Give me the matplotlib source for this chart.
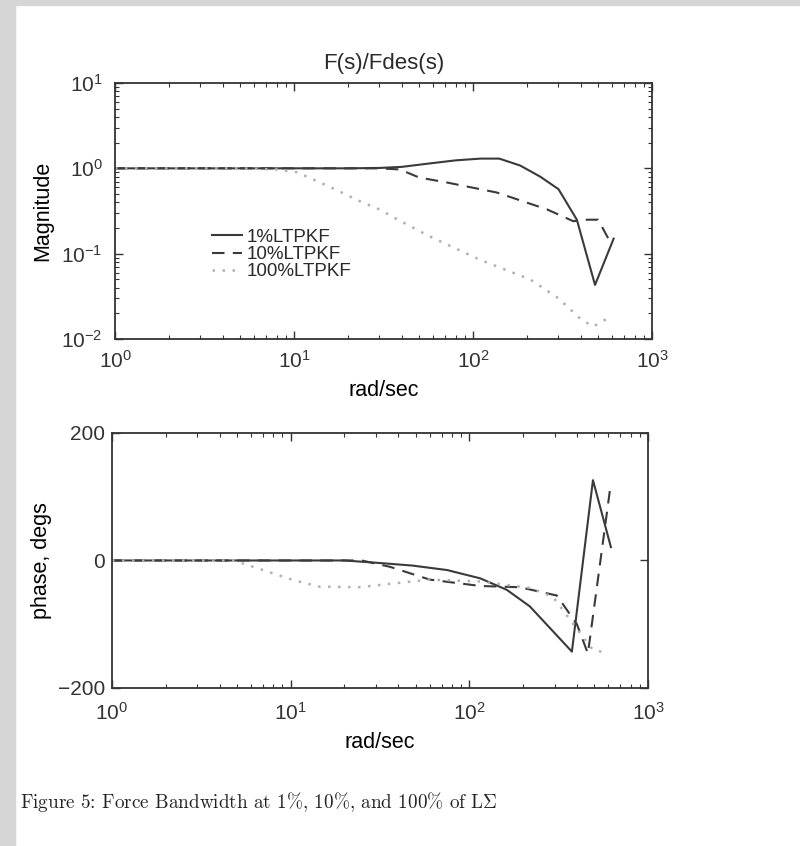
import matplotlib.pyplot as plt
from matplotlib.patches import Rectangle

# magnitude data
w_mag_1 = [1, 20, 30, 40, 57, 80, 110, 140, 183, 237, 300, 380, 480, 610]
mag_1 = [1.0, 1.0, 1.01, 1.04, 1.14, 1.24, 1.30, 1.30, 1.08, 0.80, 0.57, 0.25, 0.043, 0.15]

w_mag_10 = [1, 30, 39, 50, 72, 136, 259, 363, 432, 500, 580]
mag_10 = [1.0, 1.0, 0.97, 0.78, 0.68, 0.52, 0.33, 0.24, 0.25, 0.25, 0.14]

w_mag_100 = [1, 5, 8, 10.4, 16, 24, 30, 38, 57, 109, 208, 300, 400, 470, 580]
mag_100 = [1.0, 1.0, 0.97, 0.9, 0.6, 0.40, 0.33, 0.25, 0.16, 0.085, 0.05, 0.03, 0.017, 0.014, 0.018]

# phase data (degrees)
w_ph_1 = [1, 20, 31.6, 48, 75, 115, 162, 218, 375, 492, 620]
ph_1 = [0, 0, -4, -8, -15, -28, -46, -72, -143, 126, 21]

w_ph_10 = [1, 25, 36, 60, 115, 192, 309, 400, 461, 612]
ph_10 = [0, 0, -10, -30, -40, -42, -55, -100, -146, 110]

w_ph_100 = [1, 4.8, 7, 10.4, 14.5, 24, 38, 60, 115, 218, 294, 366, 417, 491, 585]
ph_100 = [0, 0, -15, -31, -41, -42, -36, -30, -33, -43, -57, -93, -114, -140, -145]

labels = ['1%LTPKF', '10%LTPKF', '100%LTPKF']

plt.rcParams['font.family'] = ['Liberation Sans', 'DejaVu Sans']
plt.rcParams['text.color'] = '#2a2a2a'
plt.rcParams['axes.edgecolor'] = '#333333'
plt.rcParams['xtick.color'] = '#333333'
plt.rcParams['ytick.color'] = '#333333'

dark = '#3a3a3a'
light = '#b0b0b0'

fig = plt.figure(figsize=(8, 8.46), dpi=100)
fig.patches.append(Rectangle((0, 1 - 5 / 846), 1, 5 / 846, transform=fig.transFigure,
                             color='#d6d6d6', zorder=0))
fig.patches.append(Rectangle((0, 0), 15 / 800, 1, transform=fig.transFigure,
                             color='#d6d6d6', zorder=0))


def style(ax):
    ax.tick_params(which='both', direction='in', top=True, right=True, labelsize=15)
    ax.tick_params(which='major', length=6, width=1)
    ax.tick_params(which='minor', length=3, width=0.8)
    for s in ax.spines.values():
        s.set_linewidth(1.3)


# magnitude
ax1 = fig.add_axes([0.1438, 0.5993, 0.6713, 0.3026])
ax1.loglog(w_mag_1, mag_1, color=dark, lw=1.5, label=labels[0])
ax1.loglog(w_mag_10, mag_10, color=dark, lw=1.5, ls=(0, (6, 4)), label=labels[1])
ax1.loglog(w_mag_100, mag_100, color=light, lw=1.8, ls=(0, (1, 3)), label=labels[2])
ax1.set_xlim(1, 1000)
ax1.set_ylim(1e-2, 10)
style(ax1)
ax1.tick_params(axis='x', pad=8)
ax1.tick_params(axis='y', pad=9)
ax1.set_title('F(s)/Fdes(s)', fontsize=16, pad=10)
ax1.set_xlabel('rad/sec', fontsize=15.5, labelpad=6)
ax1.set_ylabel('Magnitude', fontsize=15.5, labelpad=6)
ax1.legend(loc='upper left', bbox_to_anchor=(0.18, 0.43), frameon=False, fontsize=13.5,
           handlelength=1.6, handletextpad=0.25, labelspacing=0.0, borderpad=0,
           borderaxespad=0)

# phase
ax2 = fig.add_axes([0.14, 0.1868, 0.67, 0.3014])
ax2.semilogx(w_ph_1, ph_1, color=dark, lw=1.5)
ax2.semilogx(w_ph_10, ph_10, color=dark, lw=1.5, ls=(0, (6, 4)))
ax2.semilogx(w_ph_100, ph_100, color=light, lw=1.8, ls=(0, (1, 3)))
ax2.set_xlim(1, 1000)
ax2.set_ylim(-200, 200)
ax2.set_yticks([-200, 0, 200])
style(ax2)
ax2.tick_params(axis='x', pad=10)
ax2.tick_params(axis='y', pad=5)
ax2.set_xlabel('rad/sec', fontsize=15.5, labelpad=6)
ax2.set_ylabel('phase, degs', fontsize=15.5, labelpad=4)

fig.text(20 / 800, 1 - 802 / 846,
         r'Figure 5: Force Bandwidth at 1%, 10%, and 100% of L$\Sigma$',
         family='cmr10', math_fontfamily='cm', fontsize=13.8, va='center', ha='left',
         color='#222222')

fig.savefig('out.png', dpi=100, facecolor='white')
